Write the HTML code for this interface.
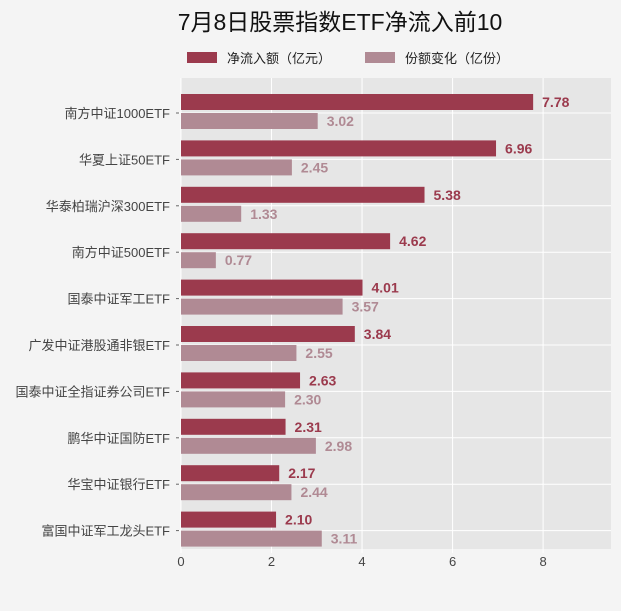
<!DOCTYPE html>
<html><head><meta charset="utf-8"><style>
body{margin:0;background:#f4f4f4;font-family:"Liberation Sans","Noto Sans CJK SC",sans-serif;}
</style></head><body>
<svg id="c" width="621" height="606" xmlns="http://www.w3.org/2000/svg">
<rect width="621" height="606" fill="#f4f4f4"/>
<text x="340" y="30" font-size="23" text-anchor="middle" fill="#111" font-family="Liberation Sans,Noto Sans CJK SC,sans-serif">7月8日股票指数ETF净流入前10</text>
<g>
<rect x="187" y="52" width="30" height="11" fill="#9b3a4d"/>
<text x="227" y="63" font-size="13" fill="#222">净流入额（亿元）</text>
<rect x="365" y="52" width="30" height="11" fill="#b08a94"/>
<text x="405" y="63" font-size="13" fill="#222">份额变化（亿份）</text>
</g>
<g id="plot"></g>
</svg>
<script>
const categories=["南方中证1000ETF","华夏上证50ETF","华泰柏瑞沪深300ETF","南方中证500ETF","国泰中证军工ETF","广发中证港股通非银ETF","国泰中证全指证券公司ETF","鹏华中证国防ETF","华宝中证银行ETF","富国中证军工龙头ETF"];
const inflow=[7.78,6.96,5.38,4.62,4.01,3.84,2.63,2.31,2.17,2.10];
const shares=[3.02,2.45,1.33,0.77,3.57,2.55,2.30,2.98,2.44,3.11];
const xTicks=[0,2,4,6,8];
const NS="http://www.w3.org/2000/svg";
const L=181,R=611,T=78,B=549,XMAX=9.5;
const x=v=>L+v/XMAX*(R-L);
const step=46.4,y0=113;
const yc=i=>y0+i*step;
const g=document.getElementById('plot');
function mk(t,a){const e=document.createElementNS(NS,t);for(const k in a)e.setAttribute(k,a[k]);g.appendChild(e);return e;}
const bg=mk('rect',{x:L,y:T,width:R-L,height:B-T,fill:'#e6e6e6'});


xTicks.forEach(t=>{
 const l=mk('line',{x1:x(t),x2:x(t),y1:T,y2:B+4,stroke:'#fff','stroke-width':1});
 
 
 const tx=mk('text',{x:x(t),y:B+17,'font-size':13,'text-anchor':'middle',fill:'#444'});
 tx.textContent=t;
 
 
});
categories.forEach((c,i)=>{
 const l=mk('line',{x1:L-4,x2:R,y1:yc(i),y2:yc(i),stroke:'#fff','stroke-width':1});
 
 
 const tk=mk('line',{x1:L-5,x2:L-2,y1:yc(i),y2:yc(i),stroke:'#666','stroke-width':1});
 
 
 const tx=mk('text',{x:L-11,y:yc(i)+5,'font-size':13,'text-anchor':'end',fill:'#444'});
 tx.textContent=c;
 
 
 const b1=mk('rect',{x:L,y:yc(i)-19,width:x(inflow[i])-L,height:16,fill:'#9b3a4d'});
 
 
 const t1=mk('text',{x:x(inflow[i])+9,y:yc(i)-6,'font-size':14,'font-weight':'bold',fill:'#9b3a4d'});
 t1.textContent=inflow[i].toFixed(2);
 
 
 const b2=mk('rect',{x:L,y:yc(i)+0,width:x(shares[i])-L,height:16,fill:'#b08a94'});
 
 
 const t2=mk('text',{x:x(shares[i])+9,y:yc(i)+13,'font-size':14,'font-weight':'bold',fill:'#b08a94'});
 t2.textContent=shares[i].toFixed(2);
 
 
});
</script>
</body></html>
